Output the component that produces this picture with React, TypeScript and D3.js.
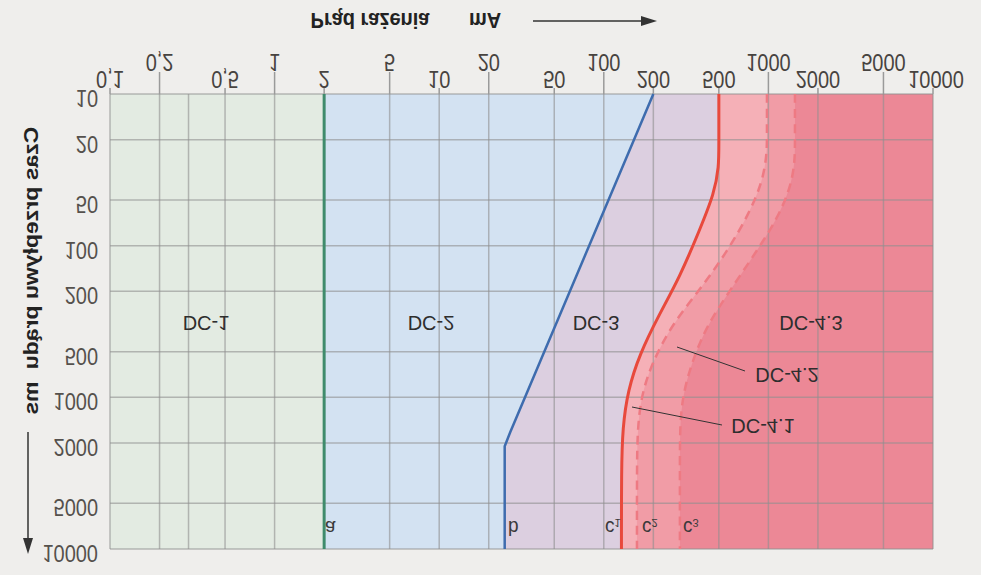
import React from "react";
import * as d3 from "d3";

// ---- data ----
const xTicksLower = [0.1, 0.5, 2, 10, 50, 200, 500, 2000, 10000];
const xTicksUpper = [0.2, 1, 5, 20, 100, 1000, 5000];
const xGrid = [0.1, 0.2, 0.3, 0.5, 1, 2, 5, 10, 20, 50, 100, 200, 500, 1000, 2000, 5000, 10000];
const yTicks = [10, 20, 50, 100, 200, 500, 1000, 2000, 5000, 10000];

// curves: current (mA) vs time (ms)
const aI = [2, 2];
const aT = [10, 10000];
const bI = [200, 27, 25, 25];
const bT = [10, 1700, 2100, 10000];
const c1I = [500, 500, 500, 470, 380, 290, 215, 165, 140, 130, 128, 128];
const c1T = [10, 22, 30, 45, 80, 160, 290, 520, 900, 1600, 3000, 10000];
const c2I = [980, 980, 980, 920, 760, 560, 390, 260, 195, 168, 160, 159, 159];
const c2T = [10, 18, 25, 38, 62, 110, 190, 330, 600, 1000, 1700, 3000, 10000];
const c3I = [1450, 1450, 1450, 1360, 1120, 820, 580, 420, 340, 300, 290, 290, 290];
const c3T = [10, 20, 28, 42, 68, 115, 200, 340, 600, 1000, 1600, 3000, 10000];

const zoneLabels = ["DC-1", "DC-2", "DC-3", "DC-4.1", "DC-4.2", "DC-4.3"];

const W = 981;
const H = 575;

const x = d3.scaleLog().domain([0.1, 10000]).range([110, 933]);
const y = d3.scaleLog().domain([10, 10000]).range([94, 549]);

type P = { I: number; t: number };
const pts = (I: number[], T: number[]): P[] => I.map((v, i) => ({ I: v, t: T[i] }));

const curveA = pts(aI, aT);
const curveB = pts(bI, bT);
const curveC1 = pts(c1I, c1T);
const curveC2 = pts(c2I, c2T);
const curveC3 = pts(c3I, c3T);

const makeLine = (c: any) =>
  d3
    .line<P>()
    .x((d) => x(d.I))
    .y((d) => y(d.t))
    .curve(c);

const makeArea = (c: any) =>
  d3
    .area<P>()
    .x0(x(0.1))
    .x1((d) => x(d.I))
    .y((d) => y(d.t))
    .curve(c);

const lineLin = makeLine(d3.curveLinear);
const lineSmooth = makeLine(d3.curveBasis);
const areaLin = makeArea(d3.curveLinear);
const areaSmooth = makeArea(d3.curveBasis);

const fmt = (v: number) => (v < 1 ? String(v).replace(".", ",") : String(v));

const FONT = "'Liberation Sans', Arial, sans-serif";

function FText(props: {
  x: number;
  y: number;
  size?: number;
  weight?: string;
  anchor?: string;
  sy?: number;
  fill?: string;
  rotate?: number;
  children: React.ReactNode;
}) {
  const { x: px, y: py, size = 20, weight = "normal", anchor = "middle", sy = 1.15, fill = "#3a3a3a", rotate } = props;
  const tr = `translate(${px},${py}) scale(1,${-sy})` + (rotate ? ` rotate(${rotate})` : "");
  return (
    <text
      transform={tr}
      textAnchor={anchor as any}
      dominantBaseline="central"
      fontFamily={FONT}
      fontSize={size}
      fontWeight={weight}
      fill={fill}
    >
      {props.children}
    </text>
  );
}

export default function App() {
  const x0 = x(0.1);
  const x1 = x(10000);
  const y0 = y(10);
  const y1 = y(10000);
  const cSub = (label: string, n: string, px: number) => (
    <FText x={px} y={528} size={19} sy={1.05} fill="#3a3a3a" anchor="start">
      {label}
      <tspan fontSize={11} dy={5}>
        {n}
      </tspan>
    </FText>
  );
  return (
    <svg
      width={W}
      height={H}
      style={{ position: "absolute", left: 0, top: 0, background: "#efeeec" }}
    >
      <rect x={0} y={0} width={W} height={H} fill="#efeeec" />
      {/* zone fills, layered */}
      <rect x={x0} y={y0} width={x1 - x0} height={y1 - y0} fill="#ec8896" />
      <path d={areaSmooth(curveC3) || ""} fill="#f19ca6" />
      <path d={areaSmooth(curveC2) || ""} fill="#f5b0b7" />
      <path d={areaSmooth(curveC1) || ""} fill="#dccfe0" />
      <path d={areaLin(curveB) || ""} fill="#d3e2f2" />
      <path d={areaLin(curveA) || ""} fill="#e3ebe2" />

      {/* grid */}
      {xGrid.map((v) => (
        <line key={"gx" + v} x1={x(v)} x2={x(v)} y1={y0} y2={y1} stroke="#8f8f8f" strokeOpacity={0.6} strokeWidth={1.5} />
      ))}
      {yTicks.map((v) => (
        <line key={"gy" + v} x1={x0} x2={x1} y1={y(v)} y2={y(v)} stroke="#8f8f8f" strokeOpacity={0.6} strokeWidth={1.5} />
      ))}
      {/* x ticks */}
      {xTicksUpper.map((v) => (
        <line key={"tu" + v} x1={x(v)} x2={x(v)} y1={72} y2={y0} stroke="#9a9a9a" strokeWidth={1.5} />
      ))}
      {xTicksLower.map((v) => (
        <line key={"tl" + v} x1={x(v)} x2={x(v)} y1={88} y2={y0} stroke="#9a9a9a" strokeWidth={1.5} />
      ))}

      {/* curves */}
      <path d={lineLin(curveA) || ""} fill="none" stroke="#3f8b6c" strokeWidth={3} />
      <path d={lineLin(curveB) || ""} fill="none" stroke="#3e6cae" strokeWidth={2.5} />
      <path d={lineSmooth(curveC3) || ""} fill="none" stroke="#ee7a83" strokeWidth={2.5} strokeDasharray="9,6" />
      <path d={lineSmooth(curveC2) || ""} fill="none" stroke="#ee7a83" strokeWidth={2.5} strokeDasharray="9,6" />
      <path d={lineSmooth(curveC1) || ""} fill="none" stroke="#e8493c" strokeWidth={3} />

      {/* x tick labels */}
      {xTicksUpper.map((v) => (
        <FText key={"lu" + v} x={x(v)} y={62} fill="#474340">
          {fmt(v)}
        </FText>
      ))}
      {xTicksLower.map((v) => (
        <FText key={"ll" + v} x={x(v) + (v === 10000 ? 3 : 0)} y={79} fill="#474340">
          {fmt(v)}
        </FText>
      ))}
      {/* y tick labels */}
      {yTicks.map((v) => (
        <FText key={"ly" + v} x={98} y={y(v) + 4} anchor="end" fill="#55514d">
          {fmt(v)}
        </FText>
      ))}

      {/* x title */}
      <FText x={370} y={21} weight="bold" sy={1.1} fill="#222">
        Prąd rażenia
      </FText>
      <FText x={485} y={21} weight="bold" sy={1.1} fill="#222">
        mA
      </FText>
      <line x1={533} x2={645} y1={21} y2={21} stroke="#333" strokeWidth={1.5} />
      <polygon points="657,21 641,16 641,26" fill="#333" />

      {/* y title */}
      <FText x={31} y={248} weight="bold" sy={1.15} rotate={-90} fill="#222">
        Czas przepływu prądu
      </FText>
      <FText x={31} y={398} weight="bold" sy={1.15} rotate={-90} fill="#222">
        ms
      </FText>
      <line x1={28} x2={28} y1={432} y2={540} stroke="#333" strokeWidth={1.5} />
      <polygon points="28,554 23,538 33,538" fill="#333" />

      {/* zone labels */}
      <FText x={206} y={324} size={20} sy={1.05} fill="#2e2e2e">{zoneLabels[0]}</FText>
      <FText x={431} y={324} size={20} sy={1.05} fill="#2e2e2e">{zoneLabels[1]}</FText>
      <FText x={596} y={324} size={20} sy={1.05} fill="#2e2e2e">{zoneLabels[2]}</FText>
      <FText x={811} y={324} size={20} sy={1.05} fill="#2e2e2e">{zoneLabels[5]}</FText>
      <FText x={787} y={376} size={20} sy={1.05} fill="#2e2e2e">{zoneLabels[4]}</FText>
      <FText x={763} y={427} size={20} sy={1.05} fill="#2e2e2e">{zoneLabels[3]}</FText>
      <line x1={677} y1={347} x2={745} y2={371} stroke="#333" strokeWidth={1} />
      <line x1={632} y1={407} x2={722} y2={425} stroke="#333" strokeWidth={1} />

      {/* curve letters */}
      <FText x={325} y={528} size={19} sy={1.05} anchor="start" fill="#3a3a3a">a</FText>
      <FText x={508} y={528} size={19} sy={1.05} anchor="start" fill="#3a3a3a">b</FText>
      {cSub("c", "1", 605)}
      {cSub("c", "2", 642)}
      {cSub("c", "3", 683)}
    </svg>
  );
}
